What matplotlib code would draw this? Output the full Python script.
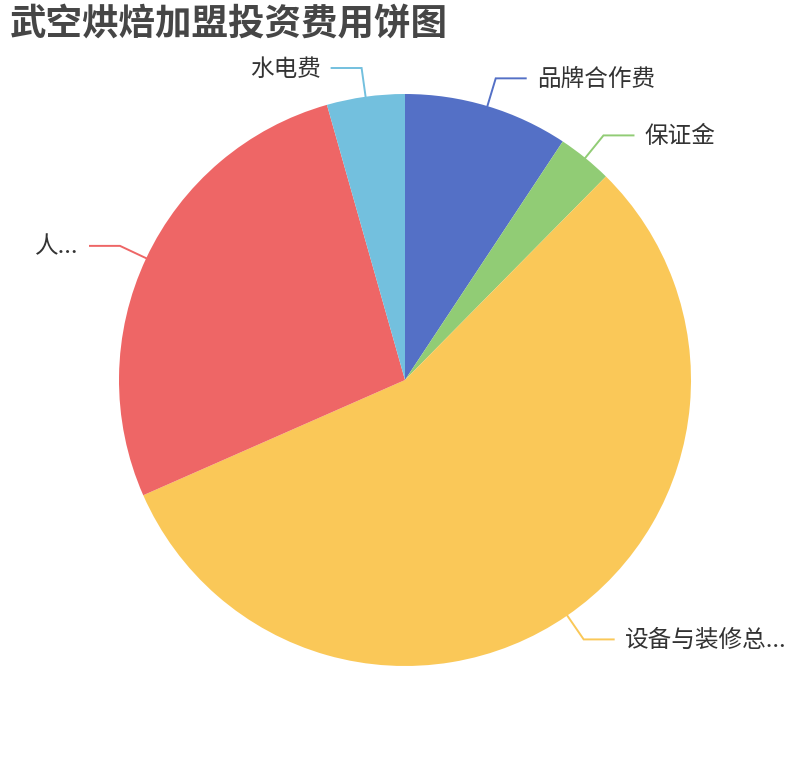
import numpy as np
import matplotlib
matplotlib.use("Agg")
import matplotlib.pyplot as plt

plt.rcParams['font.family'] = ['Noto Sans CJK SC', 'DejaVu Sans']

# 数据（按饼图比例读取，单位 %）
names = ['品牌合作费', '保证金', '设备与装修总...', '人...', '水电费']
values = [9.3, 3.1, 56.0, 27.2, 4.4]
colors = ['#5470c6', '#91cc75', '#fac858', '#ee6666', '#73c0de']
title = '武空烘焙加盟投资费用饼图'

W, H = 810, 760
fig = plt.figure(figsize=(W / 100, H / 100), dpi=100)
ax = fig.add_axes([0, 0, 1, 1])

cx, cy, r = 405, H - 380, 286
wedges, _ = ax.pie(values, colors=colors, startangle=90, counterclock=False,
                   center=(cx, cy), radius=r, frame=True,
                   wedgeprops=dict(linewidth=0))
ax.set_xlim(0, W)
ax.set_ylim(0, H)
ax.set_aspect('equal')
ax.axis('off')

# 标签与引导线
for w, name, c in zip(wedges, names, colors):
    mid = np.deg2rad((w.theta1 + w.theta2) / 2)
    ux, uy = np.cos(mid), np.sin(mid)
    p0 = (cx + r * ux, cy + r * uy)
    p1 = (cx + (r + 29) * ux, cy + (r + 29) * uy)
    side = 1 if ux >= 0 else -1
    p2 = (p1[0] + side * 30, p1[1])
    ax.plot([p0[0], p1[0], p2[0]], [p0[1], p1[1], p2[1]], color=c, lw=1.4,
            solid_joinstyle='miter')
    ax.text(p2[0] + side * 11, p2[1] - 1, name, ha='left' if side > 0 else 'right',
            va='center', fontsize=17, color='#333333')

ax.text(10, H - 24, title, ha='left', va='center', fontsize=26.3,
        fontweight='bold', color='#464646')

fig.savefig('out.png', dpi=100)
